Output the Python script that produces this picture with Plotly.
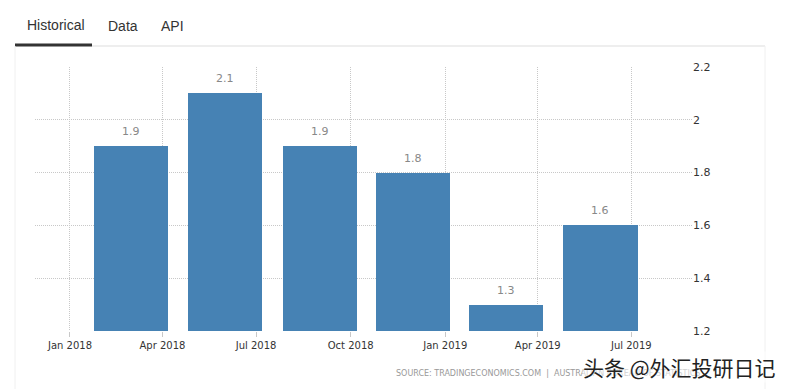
import plotly.graph_objects as go

dates = ["2018-03-01", "2018-06-01", "2018-09-01", "2018-12-01", "2019-03-01", "2019-06-01"]
values = [1.9, 2.1, 1.9, 1.8, 1.3, 1.6]
tick_dates = ["2018-01-01", "2018-04-01", "2018-07-01", "2018-10-01", "2019-01-01", "2019-04-01", "2019-07-01"]
tick_labels = ["Jan 2018", "Apr 2018", "Jul 2018", "Oct 2018", "Jan 2019", "Apr 2019", "Jul 2019"]
y_ticks = [1.2, 1.4, 1.6, 1.8, 2.0, 2.2]
y_labels = ["1.2", "1.4", "1.6", "1.8", "2", "2.2"]

# page body has an 8px margin; work in reference-screen pixels and offset
OFF = 8
W, H = 787 - OFF, 389 - OFF
PL, PR, PT, PB = 35, 692, 67, 331  # plot area in reference screen px
L, R, T, B = PL - OFF, W - (PR - OFF), PT - OFF, H - (PB - OFF)
pw = W - L - R
ph = H - T - B

def px(x):
    return (x - OFF - L) / pw

def py(y):
    return (H - B - (y - OFF)) / ph

fig = go.Figure()
fig.add_trace(go.Bar(
    x=dates, y=values,
    width=[72 * 86400000] * len(values),
    marker=dict(color="#4682b4", line=dict(width=0)),
    hoverinfo="skip",
))

annotations = [
    dict(text="Historical", xref="paper", yref="paper", x=px(25), y=py(25), xanchor="left", yanchor="middle",
         showarrow=False, font=dict(family="Liberation Sans", size=14, color="#333333")),
    dict(text="Data", xref="paper", yref="paper", x=px(106), y=py(26), xanchor="left", yanchor="middle",
         showarrow=False, font=dict(family="Liberation Sans", size=14, color="#333333")),
    dict(text="API", xref="paper", yref="paper", x=px(159), y=py(26), xanchor="left", yanchor="middle",
         showarrow=False, font=dict(family="Liberation Sans", size=14, color="#333333")),
    dict(text="SOURCE: TRADINGECONOMICS.COM  |  AUSTRALIAN BUREAU OF STATISTICS", xref="paper", yref="paper",
         x=px(394), y=py(373), xanchor="left", yanchor="middle",
         showarrow=False, font=dict(family="DejaVu Sans", size=8, color="#999999")),
    dict(text="头条 @外汇投研日记", xref="paper", yref="paper", x=px(777), y=py(367), xanchor="right", yanchor="middle",
         showarrow=False, bgcolor="rgba(255,255,255,0.55)", borderpad=0,
         font=dict(family="Noto Sans CJK SC", size=21, color="#222222")),
]
for d, v in zip(dates, values):
    annotations.append(dict(
        x=d, y=v, xref="x", yref="y", text=f"{v:g}", showarrow=False,
        yanchor="bottom", yshift=6,
        font=dict(family="DejaVu Sans", size=11, color="#888888"),
    ))

GRID = "#c8c8c8"
fig.update_layout(
    width=W, height=H,
    margin=dict(l=L, r=R, t=T, b=B, pad=0),
    paper_bgcolor="white", plot_bgcolor="white",
    showlegend=False,
    bargap=0,
    xaxis=dict(
        type="date",
        range=["2017-11-28", "2019-08-29"],
        tickvals=tick_dates, ticktext=tick_labels,
        showgrid=True, gridcolor=GRID, griddash="1px,1px", gridwidth=1,
        ticks="outside", ticklen=5, tickcolor=GRID,
        tickfont=dict(family="DejaVu Sans", size=10, color="#333333"),
        showline=False, zeroline=False,
        fixedrange=True,
    ),
    yaxis=dict(
        side="right",
        range=[1.2, 2.2],
        tickvals=y_ticks, ticktext=y_labels,
        showgrid=True, gridcolor=GRID, griddash="1px,1px", gridwidth=1,
        tickfont=dict(family="DejaVu Sans", size=11, color="#333333"),
        showline=False, zeroline=False,
        ticks="",
        fixedrange=True,
    ),
    shapes=[
        dict(type="line", xref="paper", yref="paper", x0=px(92), x1=px(765), y0=py(46), y1=py(46),
             line=dict(color="#dddddd", width=1)),
        dict(type="line", xref="paper", yref="paper", x0=px(15), x1=px(92), y0=py(45), y1=py(45),
             line=dict(color="#333333", width=3)),
        dict(type="line", xref="paper", yref="paper", x0=px(15), x1=px(15), y0=py(46), y1=py(389),
             line=dict(color="#f0f0f0", width=1)),
        dict(type="line", xref="paper", yref="paper", x0=px(765), x1=px(765), y0=py(46), y1=py(389),
             line=dict(color="#f0f0f0", width=1)),
    ],
    annotations=annotations,
)

fig.write_html("out.html")
